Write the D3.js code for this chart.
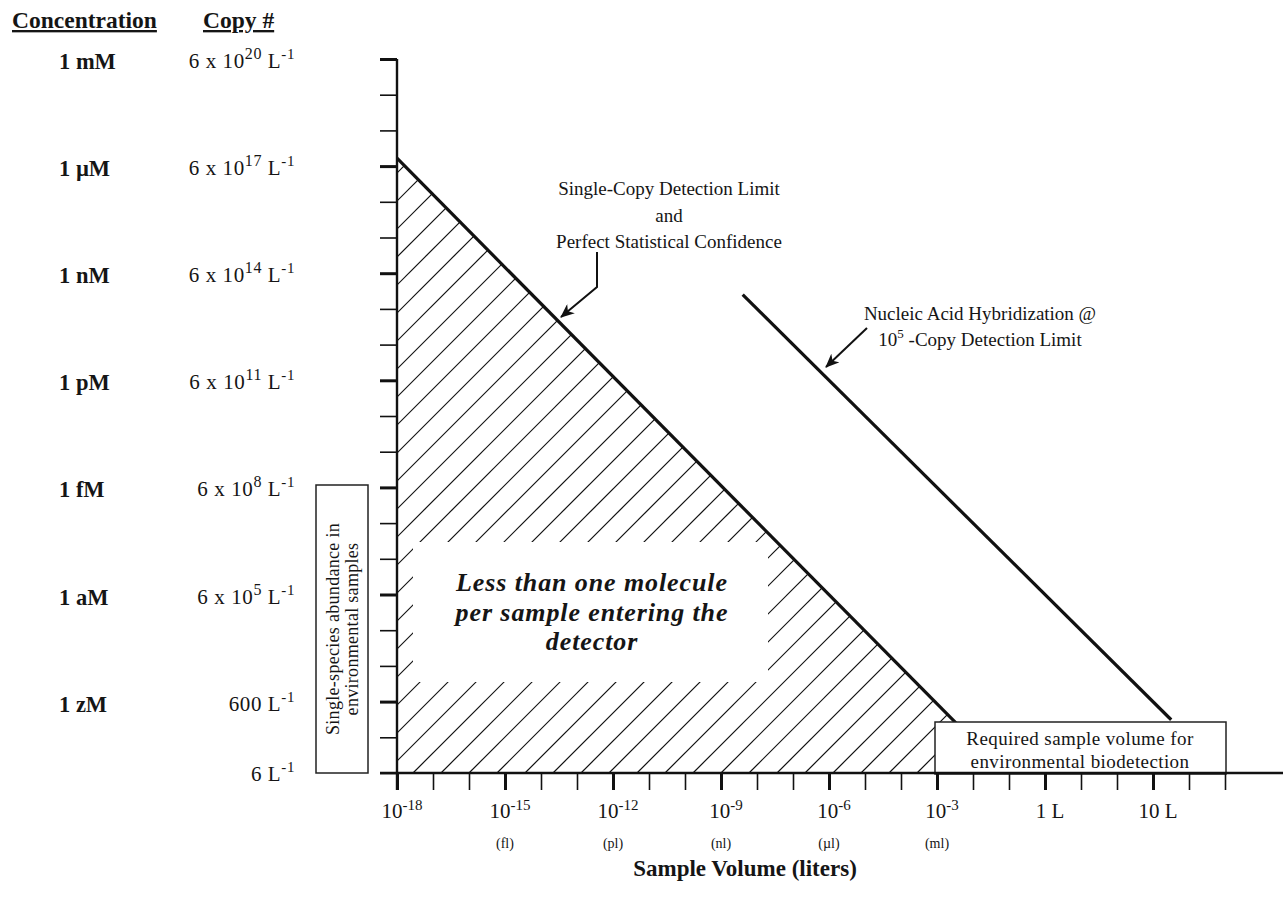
<!DOCTYPE html>
<html><head><meta charset="utf-8">
<script src="https://cdn.jsdelivr.net/npm/d3@7/dist/d3.min.js"></script>
<style>
body{margin:0;background:#fff}
svg{display:block}
text{font-family:"Liberation Serif","Times New Roman",serif;fill:#151515}
</style>
</head><body>
<svg id="c" width="1283" height="911"></svg>
<script>
// ---- data ----
const concLabels = ["1 mM","1 \u00b5M","1 nM","1 pM","1 fM","1 aM","1 zM"];
const concValues = [1e-3,1e-6,1e-9,1e-12,1e-15,1e-18,1e-21];
const copyBase = ["6 x 10","6 x 10","6 x 10","6 x 10","6 x 10","6 x 10","600","6"];
const copyExp = ["20","17","14","11","8","5","",""];
const copyValues = [1e-3,1e-6,1e-9,1e-12,1e-15,1e-18,1e-21,1e-23];
const yTickExps = [-3,-4,-5,-6,-7,-8,-9,-10,-11,-12,-13,-14,-15,-16,-17,-18,-19,-20,-21,-22,-23];
const yMajorExps = [-3,-6,-9,-12,-15,-18,-21];
const xTickExps = [-18,-17,-16,-15,-14,-13,-12,-11,-10,-9,-8,-7,-6,-5,-4,-3,-2,-1,0,1,2,3,4,5];
const xLabelValues = [1e-18,1e-15,1e-12,1e-9,1e-6,1e-3,1,1e3];
const xLabelBase = ["10","10","10","10","10","10","1 L","10 L"];
const xLabelExp = ["-18","-15","-12","-9","-6","-3","",""];
const xSubValues = [1e-15,1e-12,1e-9,1e-6,1e-3];
const xSubLabels = ["(fl)","(pl)","(nl)","(\u00b5l)","(ml)"];
// single-copy detection limit (volume L, molar conc)
const singleCopyVol = [1e-18, 0.08];
const singleCopyConc = [1.66e-6, 1e-23];
// nucleic acid hybridization limit
const hybridVol = [4e-9, 3.2e3];
const hybridConc = [2.5e-10, 3.1e-22];

// ---- scales ----
const svg = d3.select("#c");
const x = d3.scaleLog().domain([1e-18, 1e5]).range([397, 1225]);
const y = d3.scaleLog().domain([1e-3, 1e-23]).range([59, 773]);
const x0 = x(1e-18), yB = y(1e-23);

// ---- markers ----
const defs = svg.append("defs");
defs.append("marker").attr("id","arr").attr("viewBox","0 0 14 12")
  .attr("refX",13).attr("refY",6).attr("markerWidth",14).attr("markerHeight",12)
  .attr("markerUnits","userSpaceOnUse").attr("orient","auto")
  .append("path").attr("d","M0,0 L14,6 L0,12 L4,6 Z").attr("fill","#111");

// ---- hatched region ----
const p1 = [x(singleCopyVol[0]), y(singleCopyConc[0])];
const p2 = [x(singleCopyVol[1]), y(singleCopyConc[1])];
defs.append("clipPath").attr("id","tri").append("polygon")
  .attr("points", [[x0, p1[1]], p2, [x0, yB]].map(p=>p.join(",")).join(" "));
const hatch = svg.append("g").attr("clip-path","url(#tri)");
const kStart = 413 + yB - 28*30;
for (let k = kStart; k < 1300 + yB; k += 28) {
  hatch.append("line").attr("x1", k - yB).attr("y1", yB).attr("x2", k).attr("y2", 0)
    .attr("stroke","#111").attr("stroke-width",1.2);
}
// blank area for message
svg.append("rect").attr("x",413).attr("y",542).attr("width",355).attr("height",140).attr("fill","#fff");

// ---- lines ----
const line = d3.line().x(d=>x(d[0])).y(d=>y(d[1]));
svg.append("path").attr("d", line(singleCopyVol.map((v,i)=>[v, singleCopyConc[i]])))
  .attr("stroke","#111").attr("stroke-width",3.2).attr("fill","none");
svg.append("path").attr("d", line(hybridVol.map((v,i)=>[v, hybridConc[i]])))
  .attr("stroke","#111").attr("stroke-width",3.2).attr("fill","none");

// ---- boxes ----
svg.append("rect").attr("x",935).attr("y",722).attr("width",291).attr("height",52)
  .attr("fill","#fff").attr("stroke","#222").attr("stroke-width",1.5);
svg.append("rect").attr("x",316).attr("y",485).attr("width",52).attr("height",288)
  .attr("fill","#fff").attr("stroke","#222").attr("stroke-width",1.5);

// ---- axes ----
const yAxis = d3.axisLeft(y).tickValues(yTickExps.map(e=>Math.pow(10,e))).tickSize(17).tickSizeOuter(0).tickFormat("");
const gy = svg.append("g").attr("transform",`translate(${x0},0)`).call(yAxis);
gy.select(".domain").remove();
gy.selectAll(".tick line").attr("stroke","#111")
  .attr("stroke-width", d => yMajorExps.includes(Math.round(Math.log10(d))) ? 3 : 1.6);
svg.append("line").attr("x1",x0).attr("x2",x0).attr("y1",y(1e-3)).attr("y2",yB+17)
  .attr("stroke","#111").attr("stroke-width",2.4);

const xMajor = xLabelValues.map(v=>Math.round(Math.log10(v)));
const xAxis = d3.axisBottom(x).tickValues(xTickExps.map(e=>Math.pow(10,e))).tickSize(17).tickSizeOuter(0).tickFormat("");
const gx = svg.append("g").attr("transform",`translate(0,${yB})`).call(xAxis);
gx.select(".domain").remove();
gx.selectAll(".tick line").attr("stroke","#111")
  .attr("stroke-width", d => xMajor.includes(Math.round(Math.log10(d))) ? 3 : 1.6);
svg.append("line").attr("x1",380).attr("x2",1283).attr("y1",yB).attr("y2",yB)
  .attr("stroke","#111").attr("stroke-width",2.4);

// ---- y labels ----
svg.append("text").attr("x",12).attr("y",28).attr("font-size",23.5).attr("font-weight","bold")
  .attr("text-decoration","underline").text("Concentration");
svg.append("text").attr("x",203).attr("y",28).attr("font-size",23.5).attr("font-weight","bold")
  .attr("text-decoration","underline").text("Copy #");
svg.selectAll(".conc").data(concLabels).enter().append("text")
  .attr("x",59).attr("y",(d,i)=>y(concValues[i])+10).attr("font-size",22.5).attr("font-weight","bold").text(d=>d);
copyBase.forEach((b,i)=>{
  const t = svg.append("text").attr("x",295).attr("y",y(copyValues[i])+9 + (i===7?-1:0))
    .attr("font-size",21).attr("letter-spacing",0.6).attr("text-anchor","end");
  t.append("tspan").text(b);
  if (copyExp[i]) t.append("tspan").attr("dy",-9).attr("font-size",16).text(copyExp[i]);
  t.append("tspan").attr("dy", copyExp[i] ? 9 : 0).text(" L");
  t.append("tspan").attr("dy",-9).attr("font-size",15).text("-1");
});

// ---- x labels ----
xLabelValues.forEach((v,i)=>{
  const t = svg.append("text").attr("x",x(v)+5).attr("y",818).attr("font-size",21).attr("text-anchor","middle");
  t.append("tspan").text(xLabelBase[i]);
  if (xLabelExp[i]) t.append("tspan").attr("dy",-8).attr("font-size",15).text(xLabelExp[i]);
});
svg.selectAll(".sub").data(xSubLabels).enter().append("text")
  .attr("x",(d,i)=>x(xSubValues[i])).attr("y",848).attr("font-size",14).attr("text-anchor","middle").text(d=>d);
svg.append("text").attr("x",745).attr("y",876).attr("font-size",23).attr("font-weight","bold")
  .attr("text-anchor","middle").text("Sample Volume (liters)");

// ---- box texts ----
const bt = svg.append("text").attr("font-size",18).attr("letter-spacing",0.3).attr("text-anchor","middle")
  .attr("transform","translate(339,629) rotate(-90)");
bt.append("tspan").attr("x",0).attr("y",0).text("Single-species abundance in");
bt.append("tspan").attr("x",0).attr("y",19).text("environmental samples");
const rt = svg.append("text").attr("font-size",19).attr("letter-spacing",0.4).attr("text-anchor","middle");
rt.append("tspan").attr("x",1080).attr("y",745).text("Required sample volume for");
rt.append("tspan").attr("x",1080).attr("y",768).text("environmental biodetection");

// ---- message ----
const mt = svg.append("text").attr("font-size",26).attr("font-weight","bold").attr("font-style","italic")
  .attr("letter-spacing",0.9).attr("text-anchor","middle");
["Less than one molecule","per sample entering the","detector"].forEach((s,i)=>
  mt.append("tspan").attr("x",592).attr("y",591+29.5*i).text(s));

// ---- annotations ----
const a1 = svg.append("text").attr("font-size",19).attr("text-anchor","middle");
["Single-Copy Detection Limit","and","Perfect Statistical Confidence"].forEach((s,i)=>
  a1.append("tspan").attr("x",669).attr("y",195+26.5*i).text(s));
svg.append("path").attr("d","M597,252 L597,287 L561,317").attr("fill","none")
  .attr("stroke","#111").attr("stroke-width",2).attr("marker-end","url(#arr)");

const a2 = svg.append("text").attr("font-size",19).attr("text-anchor","middle");
a2.append("tspan").attr("x",980).attr("y",320).text("Nucleic Acid Hybridization @");
a2.append("tspan").attr("x",980).attr("y",346).text("10");
a2.append("tspan").attr("dy",-8).attr("font-size",13).text("5");
a2.append("tspan").attr("dy",8).text(" -Copy Detection Limit");
svg.append("path").attr("d","M867,328 L826,367").attr("fill","none")
  .attr("stroke","#111").attr("stroke-width",2).attr("marker-end","url(#arr)");
</script>
</body></html>
